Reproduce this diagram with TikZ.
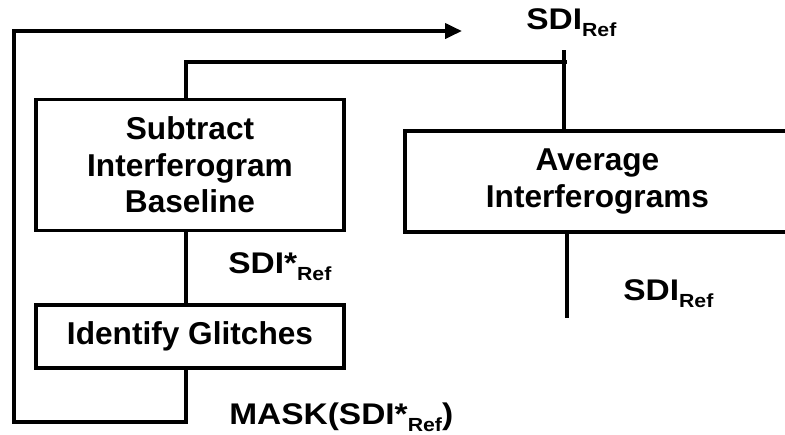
\documentclass[tikz,border=0pt]{standalone}
\usepackage{fontspec}
\setmainfont{Liberation Sans}
\newfontfamily\lblfont[FakeStretch=1.12]{Liberation Sans}
\usetikzlibrary{arrows.meta}

\newcommand{\rsub}{\raisebox{-4pt}{\fontsize{10.8}{11}\selectfont Ref}}

\begin{document}
\begin{tikzpicture}[x=0.02cm, y=-0.02cm,
            stage/.style={draw, line width=2.2pt, align=center, inner sep=0pt,
                font=\bfseries\fontsize{18}{20.8}\selectfont},
            lbl/.style={inner sep=0pt, anchor=base west,
                font=\lblfont\bfseries\fontsize{17}{20}\selectfont},
            wire/.style={line width=2.2pt}]
            \clip (0,0) rectangle (785,434);
            \node[stage, minimum width=6.16cm, minimum height=2.62cm] (sub) at (190,165) {Subtract\\Interferogram\\Baseline};
            \node[stage, minimum width=6.16cm, minimum height=1.26cm] (glitch) at (190,336.5) {Identify Glitches};
            \node[stage, minimum width=7.7cm, minimum height=2.02cm] (avg) at (597.5,181.5) {Average\\Interferograms};
            \coordinate (loopbl) at (14,422);
            \coordinate (loopend) at (462,31);
            \coordinate (topjoin) at (567,62);
            \coordinate (avgin) at (564,50);
            \coordinate (avgout) at (567,318);
            \draw[wire] ([xshift=-0.08cm]sub.south) -- ([xshift=-0.08cm]glitch.north);
            \draw[wire, -{Triangle[length=0.34cm, width=0.3cm]}] ([xshift=-0.08cm]glitch.south) |- (loopbl) |- (loopend);
            \draw[wire] ([xshift=-0.08cm]sub.north) |- (topjoin);
            \draw[wire] (avgin) -- (avgin |- avg.north);
            \draw[wire] (avgout |- avg.south) -- (avgout);
            \node[lbl] (refout) at (526,29) {SDI\rsub};
            \node[lbl] (refstar) at (228,273) {SDI*\rsub};
            \node[lbl] (refavg) at (623,300) {SDI\rsub};
            \node[lbl] (mask) at (229,424) {MASK(SDI*\rsub)};
        \end{tikzpicture}
\end{document}
